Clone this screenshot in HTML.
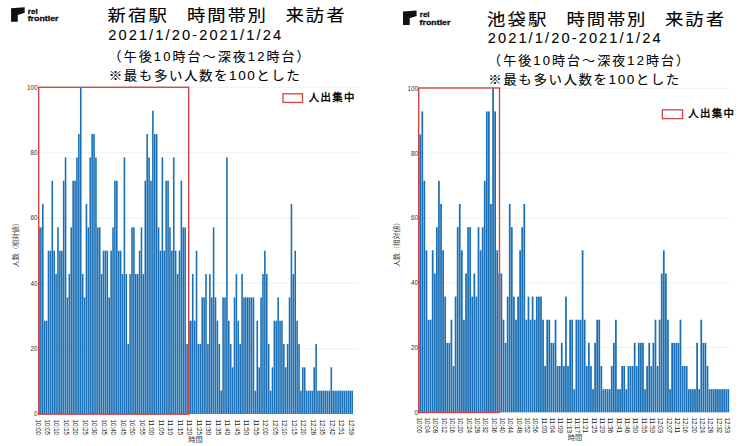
<!DOCTYPE html><html><head><meta charset="utf-8"><title>chart</title><style>html,body{margin:0;padding:0;background:#fff}svg{display:block}text{font-family:"Liberation Sans","Noto Sans CJK JP",sans-serif}</style></head><body>
<svg width="743" height="446" viewBox="0 0 743 446">
<rect width="743" height="446" fill="#fff"/>
<line x1="38.7" x2="358" y1="414.00" y2="414.00" stroke="#eeeeee" stroke-width="0.8"/>
<text x="37.6" y="416.40" font-size="6.3" fill="#333" text-anchor="end">0</text>
<line x1="38.7" x2="358" y1="348.68" y2="348.68" stroke="#eeeeee" stroke-width="0.8"/>
<text x="37.6" y="351.08" font-size="6.3" fill="#333" text-anchor="end">20</text>
<line x1="38.7" x2="358" y1="283.36" y2="283.36" stroke="#eeeeee" stroke-width="0.8"/>
<text x="37.6" y="285.76" font-size="6.3" fill="#333" text-anchor="end">40</text>
<line x1="38.7" x2="358" y1="218.04" y2="218.04" stroke="#eeeeee" stroke-width="0.8"/>
<text x="37.6" y="220.44" font-size="6.3" fill="#333" text-anchor="end">60</text>
<line x1="38.7" x2="358" y1="152.72" y2="152.72" stroke="#eeeeee" stroke-width="0.8"/>
<text x="37.6" y="155.12" font-size="6.3" fill="#333" text-anchor="end">80</text>
<line x1="38.7" x2="358" y1="87.40" y2="87.40" stroke="#eeeeee" stroke-width="0.8"/>
<text x="37.6" y="89.80" font-size="6.3" fill="#333" text-anchor="end">100</text>
<g fill="#1b70b5"><rect x="38.20" y="227.37" width="1.59" height="186.63"/><rect x="40.10" y="227.37" width="1.59" height="186.63"/><rect x="42.00" y="204.04" width="1.59" height="209.96"/><rect x="43.90" y="320.69" width="1.59" height="93.31"/><rect x="45.79" y="320.69" width="1.59" height="93.31"/><rect x="47.69" y="250.70" width="1.59" height="163.30"/><rect x="49.59" y="250.70" width="1.59" height="163.30"/><rect x="51.49" y="180.71" width="1.59" height="233.29"/><rect x="53.39" y="250.70" width="1.59" height="163.30"/><rect x="55.28" y="274.03" width="1.59" height="139.97"/><rect x="57.18" y="227.37" width="1.59" height="186.63"/><rect x="59.08" y="250.70" width="1.59" height="163.30"/><rect x="60.98" y="250.70" width="1.59" height="163.30"/><rect x="62.88" y="180.71" width="1.59" height="233.29"/><rect x="64.77" y="157.39" width="1.59" height="256.61"/><rect x="66.67" y="297.36" width="1.59" height="116.64"/><rect x="68.57" y="274.03" width="1.59" height="139.97"/><rect x="70.47" y="227.37" width="1.59" height="186.63"/><rect x="72.37" y="180.71" width="1.59" height="233.29"/><rect x="74.26" y="180.71" width="1.59" height="233.29"/><rect x="76.16" y="157.39" width="1.59" height="256.61"/><rect x="78.06" y="134.06" width="1.59" height="279.94"/><rect x="79.96" y="87.40" width="1.59" height="326.60"/><rect x="81.86" y="274.03" width="1.59" height="139.97"/><rect x="83.75" y="297.36" width="1.59" height="116.64"/><rect x="85.65" y="204.04" width="1.59" height="209.96"/><rect x="87.55" y="227.37" width="1.59" height="186.63"/><rect x="89.45" y="157.39" width="1.59" height="256.61"/><rect x="91.35" y="134.06" width="1.59" height="279.94"/><rect x="93.24" y="134.06" width="1.59" height="279.94"/><rect x="95.14" y="157.39" width="1.59" height="256.61"/><rect x="97.04" y="227.37" width="1.59" height="186.63"/><rect x="98.94" y="227.37" width="1.59" height="186.63"/><rect x="100.84" y="274.03" width="1.59" height="139.97"/><rect x="102.73" y="250.70" width="1.59" height="163.30"/><rect x="104.63" y="250.70" width="1.59" height="163.30"/><rect x="106.53" y="250.70" width="1.59" height="163.30"/><rect x="108.43" y="297.36" width="1.59" height="116.64"/><rect x="110.33" y="250.70" width="1.59" height="163.30"/><rect x="112.22" y="227.37" width="1.59" height="186.63"/><rect x="114.12" y="180.71" width="1.59" height="233.29"/><rect x="116.02" y="180.71" width="1.59" height="233.29"/><rect x="117.92" y="250.70" width="1.59" height="163.30"/><rect x="119.82" y="250.70" width="1.59" height="163.30"/><rect x="121.71" y="274.03" width="1.59" height="139.97"/><rect x="123.61" y="157.39" width="1.59" height="256.61"/><rect x="125.51" y="274.03" width="1.59" height="139.97"/><rect x="127.41" y="344.01" width="1.59" height="69.99"/><rect x="129.31" y="274.03" width="1.59" height="139.97"/><rect x="131.20" y="227.37" width="1.59" height="186.63"/><rect x="133.10" y="227.37" width="1.59" height="186.63"/><rect x="135.00" y="274.03" width="1.59" height="139.97"/><rect x="136.90" y="274.03" width="1.59" height="139.97"/><rect x="138.80" y="250.70" width="1.59" height="163.30"/><rect x="140.69" y="227.37" width="1.59" height="186.63"/><rect x="142.59" y="274.03" width="1.59" height="139.97"/><rect x="144.49" y="180.71" width="1.59" height="233.29"/><rect x="146.39" y="134.06" width="1.59" height="279.94"/><rect x="148.29" y="157.39" width="1.59" height="256.61"/><rect x="150.18" y="180.71" width="1.59" height="233.29"/><rect x="152.08" y="110.73" width="1.59" height="303.27"/><rect x="153.98" y="134.06" width="1.59" height="279.94"/><rect x="155.88" y="134.06" width="1.59" height="279.94"/><rect x="157.78" y="227.37" width="1.59" height="186.63"/><rect x="159.67" y="250.70" width="1.59" height="163.30"/><rect x="161.57" y="157.39" width="1.59" height="256.61"/><rect x="163.47" y="250.70" width="1.59" height="163.30"/><rect x="165.37" y="180.71" width="1.59" height="233.29"/><rect x="167.27" y="180.71" width="1.59" height="233.29"/><rect x="169.16" y="227.37" width="1.59" height="186.63"/><rect x="171.06" y="250.70" width="1.59" height="163.30"/><rect x="172.96" y="157.39" width="1.59" height="256.61"/><rect x="174.86" y="250.70" width="1.59" height="163.30"/><rect x="176.76" y="274.03" width="1.59" height="139.97"/><rect x="178.65" y="250.70" width="1.59" height="163.30"/><rect x="180.55" y="180.71" width="1.59" height="233.29"/><rect x="182.45" y="227.37" width="1.59" height="186.63"/><rect x="184.35" y="227.37" width="1.59" height="186.63"/><rect x="186.25" y="344.01" width="1.59" height="69.99"/><rect x="188.14" y="320.69" width="1.59" height="93.31"/><rect x="190.04" y="320.69" width="1.59" height="93.31"/><rect x="191.94" y="274.03" width="1.59" height="139.97"/><rect x="193.84" y="320.69" width="1.59" height="93.31"/><rect x="195.74" y="250.70" width="1.59" height="163.30"/><rect x="197.63" y="344.01" width="1.59" height="69.99"/><rect x="199.53" y="344.01" width="1.59" height="69.99"/><rect x="201.43" y="297.36" width="1.59" height="116.64"/><rect x="203.33" y="297.36" width="1.59" height="116.64"/><rect x="205.23" y="274.03" width="1.59" height="139.97"/><rect x="207.12" y="344.01" width="1.59" height="69.99"/><rect x="209.02" y="274.03" width="1.59" height="139.97"/><rect x="210.92" y="297.36" width="1.59" height="116.64"/><rect x="212.82" y="227.37" width="1.59" height="186.63"/><rect x="214.72" y="297.36" width="1.59" height="116.64"/><rect x="216.61" y="320.69" width="1.59" height="93.31"/><rect x="218.51" y="344.01" width="1.59" height="69.99"/><rect x="220.41" y="390.67" width="1.59" height="23.33"/><rect x="222.31" y="297.36" width="1.59" height="116.64"/><rect x="224.21" y="297.36" width="1.59" height="116.64"/><rect x="226.10" y="157.39" width="1.59" height="256.61"/><rect x="228.00" y="320.69" width="1.59" height="93.31"/><rect x="229.90" y="344.01" width="1.59" height="69.99"/><rect x="231.80" y="367.34" width="1.59" height="46.66"/><rect x="233.70" y="297.36" width="1.59" height="116.64"/><rect x="235.59" y="274.03" width="1.59" height="139.97"/><rect x="237.49" y="320.69" width="1.59" height="93.31"/><rect x="239.39" y="344.01" width="1.59" height="69.99"/><rect x="241.29" y="274.03" width="1.59" height="139.97"/><rect x="243.19" y="297.36" width="1.59" height="116.64"/><rect x="245.08" y="297.36" width="1.59" height="116.64"/><rect x="246.98" y="297.36" width="1.59" height="116.64"/><rect x="248.88" y="297.36" width="1.59" height="116.64"/><rect x="250.78" y="297.36" width="1.59" height="116.64"/><rect x="252.68" y="297.36" width="1.59" height="116.64"/><rect x="254.57" y="390.67" width="1.59" height="23.33"/><rect x="256.47" y="320.69" width="1.59" height="93.31"/><rect x="258.37" y="367.34" width="1.59" height="46.66"/><rect x="260.27" y="297.36" width="1.59" height="116.64"/><rect x="262.17" y="274.03" width="1.59" height="139.97"/><rect x="264.06" y="250.70" width="1.59" height="163.30"/><rect x="265.96" y="274.03" width="1.59" height="139.97"/><rect x="267.86" y="344.01" width="1.59" height="69.99"/><rect x="269.76" y="390.67" width="1.59" height="23.33"/><rect x="271.66" y="367.34" width="1.59" height="46.66"/><rect x="273.55" y="320.69" width="1.59" height="93.31"/><rect x="275.45" y="320.69" width="1.59" height="93.31"/><rect x="277.35" y="297.36" width="1.59" height="116.64"/><rect x="279.25" y="320.69" width="1.59" height="93.31"/><rect x="281.15" y="320.69" width="1.59" height="93.31"/><rect x="283.04" y="344.01" width="1.59" height="69.99"/><rect x="284.94" y="367.34" width="1.59" height="46.66"/><rect x="286.84" y="344.01" width="1.59" height="69.99"/><rect x="288.74" y="297.36" width="1.59" height="116.64"/><rect x="290.64" y="204.04" width="1.59" height="209.96"/><rect x="292.53" y="274.03" width="1.59" height="139.97"/><rect x="294.43" y="250.70" width="1.59" height="163.30"/><rect x="296.33" y="320.69" width="1.59" height="93.31"/><rect x="298.23" y="344.01" width="1.59" height="69.99"/><rect x="300.13" y="390.67" width="1.59" height="23.33"/><rect x="302.02" y="367.34" width="1.59" height="46.66"/><rect x="303.92" y="367.34" width="1.59" height="46.66"/><rect x="305.82" y="390.67" width="1.59" height="23.33"/><rect x="307.72" y="390.67" width="1.59" height="23.33"/><rect x="309.62" y="390.67" width="1.59" height="23.33"/><rect x="311.51" y="390.67" width="1.59" height="23.33"/><rect x="313.41" y="367.34" width="1.59" height="46.66"/><rect x="315.31" y="344.01" width="1.59" height="69.99"/><rect x="317.21" y="390.67" width="1.59" height="23.33"/><rect x="319.11" y="390.67" width="1.59" height="23.33"/><rect x="321.00" y="390.67" width="1.59" height="23.33"/><rect x="322.90" y="390.67" width="1.59" height="23.33"/><rect x="324.80" y="390.67" width="1.59" height="23.33"/><rect x="326.70" y="390.67" width="1.59" height="23.33"/><rect x="328.60" y="390.67" width="1.59" height="23.33"/><rect x="330.49" y="367.34" width="1.59" height="46.66"/><rect x="332.39" y="390.67" width="1.59" height="23.33"/><rect x="334.29" y="390.67" width="1.59" height="23.33"/><rect x="336.19" y="390.67" width="1.59" height="23.33"/><rect x="338.09" y="390.67" width="1.59" height="23.33"/><rect x="339.98" y="390.67" width="1.59" height="23.33"/><rect x="341.88" y="390.67" width="1.59" height="23.33"/><rect x="343.78" y="390.67" width="1.59" height="23.33"/><rect x="345.68" y="390.67" width="1.59" height="23.33"/><rect x="347.58" y="390.67" width="1.59" height="23.33"/><rect x="349.47" y="390.67" width="1.59" height="23.33"/><rect x="351.37" y="390.67" width="1.59" height="23.33"/></g>
<rect x="38.70" y="87.25" width="150.00" height="326.95" fill="none" stroke="#cf4545" stroke-width="1.4"/>
<text transform="translate(38.00,419.5) rotate(90)" font-size="6.7" fill="#222" dominant-baseline="central" textLength="15.6" lengthAdjust="spacingAndGlyphs">10:00</text>
<text transform="translate(47.49,419.5) rotate(90)" font-size="6.7" fill="#222" dominant-baseline="central" textLength="15.6" lengthAdjust="spacingAndGlyphs">10:05</text>
<text transform="translate(56.98,419.5) rotate(90)" font-size="6.7" fill="#222" dominant-baseline="central" textLength="15.6" lengthAdjust="spacingAndGlyphs">10:10</text>
<text transform="translate(66.47,419.5) rotate(90)" font-size="6.7" fill="#222" dominant-baseline="central" textLength="15.6" lengthAdjust="spacingAndGlyphs">10:15</text>
<text transform="translate(75.96,419.5) rotate(90)" font-size="6.7" fill="#222" dominant-baseline="central" textLength="15.6" lengthAdjust="spacingAndGlyphs">10:20</text>
<text transform="translate(85.45,419.5) rotate(90)" font-size="6.7" fill="#222" dominant-baseline="central" textLength="15.6" lengthAdjust="spacingAndGlyphs">10:25</text>
<text transform="translate(94.94,419.5) rotate(90)" font-size="6.7" fill="#222" dominant-baseline="central" textLength="15.6" lengthAdjust="spacingAndGlyphs">10:30</text>
<text transform="translate(104.43,419.5) rotate(90)" font-size="6.7" fill="#222" dominant-baseline="central" textLength="15.6" lengthAdjust="spacingAndGlyphs">10:35</text>
<text transform="translate(113.92,419.5) rotate(90)" font-size="6.7" fill="#222" dominant-baseline="central" textLength="15.6" lengthAdjust="spacingAndGlyphs">10:40</text>
<text transform="translate(123.41,419.5) rotate(90)" font-size="6.7" fill="#222" dominant-baseline="central" textLength="15.6" lengthAdjust="spacingAndGlyphs">10:45</text>
<text transform="translate(132.90,419.5) rotate(90)" font-size="6.7" fill="#222" dominant-baseline="central" textLength="15.6" lengthAdjust="spacingAndGlyphs">10:50</text>
<text transform="translate(142.39,419.5) rotate(90)" font-size="6.7" fill="#222" dominant-baseline="central" textLength="15.6" lengthAdjust="spacingAndGlyphs">10:55</text>
<text transform="translate(151.88,419.5) rotate(90)" font-size="6.7" fill="#222" dominant-baseline="central" textLength="15.6" lengthAdjust="spacingAndGlyphs">11:00</text>
<text transform="translate(161.37,419.5) rotate(90)" font-size="6.7" fill="#222" dominant-baseline="central" textLength="15.6" lengthAdjust="spacingAndGlyphs">11:05</text>
<text transform="translate(170.86,419.5) rotate(90)" font-size="6.7" fill="#222" dominant-baseline="central" textLength="15.6" lengthAdjust="spacingAndGlyphs">11:10</text>
<text transform="translate(180.35,419.5) rotate(90)" font-size="6.7" fill="#222" dominant-baseline="central" textLength="15.6" lengthAdjust="spacingAndGlyphs">11:15</text>
<text transform="translate(189.84,419.5) rotate(90)" font-size="6.7" fill="#222" dominant-baseline="central" textLength="15.6" lengthAdjust="spacingAndGlyphs">11:20</text>
<text transform="translate(199.33,419.5) rotate(90)" font-size="6.7" fill="#222" dominant-baseline="central" textLength="15.6" lengthAdjust="spacingAndGlyphs">11:25</text>
<text transform="translate(208.82,419.5) rotate(90)" font-size="6.7" fill="#222" dominant-baseline="central" textLength="15.6" lengthAdjust="spacingAndGlyphs">11:30</text>
<text transform="translate(218.31,419.5) rotate(90)" font-size="6.7" fill="#222" dominant-baseline="central" textLength="15.6" lengthAdjust="spacingAndGlyphs">11:35</text>
<text transform="translate(227.80,419.5) rotate(90)" font-size="6.7" fill="#222" dominant-baseline="central" textLength="15.6" lengthAdjust="spacingAndGlyphs">11:40</text>
<text transform="translate(237.29,419.5) rotate(90)" font-size="6.7" fill="#222" dominant-baseline="central" textLength="15.6" lengthAdjust="spacingAndGlyphs">11:45</text>
<text transform="translate(246.78,419.5) rotate(90)" font-size="6.7" fill="#222" dominant-baseline="central" textLength="15.6" lengthAdjust="spacingAndGlyphs">11:50</text>
<text transform="translate(256.27,419.5) rotate(90)" font-size="6.7" fill="#222" dominant-baseline="central" textLength="15.6" lengthAdjust="spacingAndGlyphs">11:55</text>
<text transform="translate(265.76,419.5) rotate(90)" font-size="6.7" fill="#222" dominant-baseline="central" textLength="15.6" lengthAdjust="spacingAndGlyphs">12:00</text>
<text transform="translate(275.25,419.5) rotate(90)" font-size="6.7" fill="#222" dominant-baseline="central" textLength="15.6" lengthAdjust="spacingAndGlyphs">12:05</text>
<text transform="translate(284.74,419.5) rotate(90)" font-size="6.7" fill="#222" dominant-baseline="central" textLength="15.6" lengthAdjust="spacingAndGlyphs">12:10</text>
<text transform="translate(294.23,419.5) rotate(90)" font-size="6.7" fill="#222" dominant-baseline="central" textLength="15.6" lengthAdjust="spacingAndGlyphs">12:15</text>
<text transform="translate(303.72,419.5) rotate(90)" font-size="6.7" fill="#222" dominant-baseline="central" textLength="15.6" lengthAdjust="spacingAndGlyphs">12:20</text>
<text transform="translate(313.21,419.5) rotate(90)" font-size="6.7" fill="#222" dominant-baseline="central" textLength="15.6" lengthAdjust="spacingAndGlyphs">12:28</text>
<text transform="translate(322.70,419.5) rotate(90)" font-size="6.7" fill="#222" dominant-baseline="central" textLength="15.6" lengthAdjust="spacingAndGlyphs">12:35</text>
<text transform="translate(332.19,419.5) rotate(90)" font-size="6.7" fill="#222" dominant-baseline="central" textLength="15.6" lengthAdjust="spacingAndGlyphs">12:42</text>
<text transform="translate(341.68,419.5) rotate(90)" font-size="6.7" fill="#222" dominant-baseline="central" textLength="15.6" lengthAdjust="spacingAndGlyphs">12:51</text>
<text transform="translate(351.17,419.5) rotate(90)" font-size="6.7" fill="#222" dominant-baseline="central" textLength="15.6" lengthAdjust="spacingAndGlyphs">12:59</text>
<text transform="translate(195.5,442.3) scale(1.14,1)" font-size="6.3" fill="#333" text-anchor="middle">時間</text>
<text transform="translate(18.099999999999998,243.2) rotate(-90)" font-size="6.9" fill="#444" text-anchor="middle" textLength="48" lengthAdjust="spacing">人数（相対値）</text>
<line x1="418.7" x2="730" y1="412.30" y2="412.30" stroke="#eeeeee" stroke-width="0.8"/>
<text x="418.0" y="414.70" font-size="6.3" fill="#333" text-anchor="end">0</text>
<line x1="418.7" x2="730" y1="347.50" y2="347.50" stroke="#eeeeee" stroke-width="0.8"/>
<text x="418.0" y="349.90" font-size="6.3" fill="#333" text-anchor="end">20</text>
<line x1="418.7" x2="730" y1="282.70" y2="282.70" stroke="#eeeeee" stroke-width="0.8"/>
<text x="418.0" y="285.10" font-size="6.3" fill="#333" text-anchor="end">40</text>
<line x1="418.7" x2="730" y1="217.90" y2="217.90" stroke="#eeeeee" stroke-width="0.8"/>
<text x="418.0" y="220.30" font-size="6.3" fill="#333" text-anchor="end">60</text>
<line x1="418.7" x2="730" y1="153.10" y2="153.10" stroke="#eeeeee" stroke-width="0.8"/>
<text x="418.0" y="155.50" font-size="6.3" fill="#333" text-anchor="end">80</text>
<line x1="418.7" x2="730" y1="88.30" y2="88.30" stroke="#eeeeee" stroke-width="0.8"/>
<text x="418.0" y="90.70" font-size="6.3" fill="#333" text-anchor="end">100</text>
<g fill="#1b70b5"><rect x="419.33" y="134.59" width="1.75" height="277.71"/><rect x="421.41" y="111.44" width="1.75" height="300.86"/><rect x="423.49" y="180.87" width="1.75" height="231.43"/><rect x="425.57" y="250.30" width="1.75" height="162.00"/><rect x="427.65" y="319.73" width="1.75" height="92.57"/><rect x="429.74" y="319.73" width="1.75" height="92.57"/><rect x="431.82" y="250.30" width="1.75" height="162.00"/><rect x="433.90" y="273.44" width="1.75" height="138.86"/><rect x="435.98" y="227.16" width="1.75" height="185.14"/><rect x="438.06" y="180.87" width="1.75" height="231.43"/><rect x="440.15" y="204.01" width="1.75" height="208.29"/><rect x="442.23" y="250.30" width="1.75" height="162.00"/><rect x="444.31" y="296.59" width="1.75" height="115.71"/><rect x="446.39" y="342.87" width="1.75" height="69.43"/><rect x="448.47" y="342.87" width="1.75" height="69.43"/><rect x="450.56" y="319.73" width="1.75" height="92.57"/><rect x="452.64" y="366.01" width="1.75" height="46.29"/><rect x="454.72" y="296.59" width="1.75" height="115.71"/><rect x="456.80" y="227.16" width="1.75" height="185.14"/><rect x="458.88" y="204.01" width="1.75" height="208.29"/><rect x="460.97" y="250.30" width="1.75" height="162.00"/><rect x="463.05" y="319.73" width="1.75" height="92.57"/><rect x="465.13" y="273.44" width="1.75" height="138.86"/><rect x="467.21" y="227.16" width="1.75" height="185.14"/><rect x="469.29" y="227.16" width="1.75" height="185.14"/><rect x="471.38" y="296.59" width="1.75" height="115.71"/><rect x="473.46" y="273.44" width="1.75" height="138.86"/><rect x="475.54" y="296.59" width="1.75" height="115.71"/><rect x="477.62" y="227.16" width="1.75" height="185.14"/><rect x="479.70" y="250.30" width="1.75" height="162.00"/><rect x="481.79" y="227.16" width="1.75" height="185.14"/><rect x="483.87" y="180.87" width="1.75" height="231.43"/><rect x="485.95" y="111.44" width="1.75" height="300.86"/><rect x="488.03" y="111.44" width="1.75" height="300.86"/><rect x="490.11" y="204.01" width="1.75" height="208.29"/><rect x="492.20" y="88.30" width="1.75" height="324.00"/><rect x="494.28" y="111.44" width="1.75" height="300.86"/><rect x="496.36" y="250.30" width="1.75" height="162.00"/><rect x="498.44" y="273.44" width="1.75" height="138.86"/><rect x="500.52" y="273.44" width="1.75" height="138.86"/><rect x="502.61" y="319.73" width="1.75" height="92.57"/><rect x="504.69" y="342.87" width="1.75" height="69.43"/><rect x="506.77" y="296.59" width="1.75" height="115.71"/><rect x="508.85" y="204.01" width="1.75" height="208.29"/><rect x="510.93" y="227.16" width="1.75" height="185.14"/><rect x="513.02" y="296.59" width="1.75" height="115.71"/><rect x="515.10" y="319.73" width="1.75" height="92.57"/><rect x="517.18" y="296.59" width="1.75" height="115.71"/><rect x="519.26" y="250.30" width="1.75" height="162.00"/><rect x="521.34" y="227.16" width="1.75" height="185.14"/><rect x="523.43" y="204.01" width="1.75" height="208.29"/><rect x="525.51" y="319.73" width="1.75" height="92.57"/><rect x="527.59" y="296.59" width="1.75" height="115.71"/><rect x="529.67" y="319.73" width="1.75" height="92.57"/><rect x="531.75" y="296.59" width="1.75" height="115.71"/><rect x="533.84" y="319.73" width="1.75" height="92.57"/><rect x="535.92" y="296.59" width="1.75" height="115.71"/><rect x="538.00" y="296.59" width="1.75" height="115.71"/><rect x="540.08" y="296.59" width="1.75" height="115.71"/><rect x="542.16" y="319.73" width="1.75" height="92.57"/><rect x="544.25" y="366.01" width="1.75" height="46.29"/><rect x="546.33" y="319.73" width="1.75" height="92.57"/><rect x="548.41" y="319.73" width="1.75" height="92.57"/><rect x="550.49" y="342.87" width="1.75" height="69.43"/><rect x="552.57" y="342.87" width="1.75" height="69.43"/><rect x="554.66" y="319.73" width="1.75" height="92.57"/><rect x="556.74" y="366.01" width="1.75" height="46.29"/><rect x="558.82" y="366.01" width="1.75" height="46.29"/><rect x="560.90" y="342.87" width="1.75" height="69.43"/><rect x="562.98" y="366.01" width="1.75" height="46.29"/><rect x="565.07" y="296.59" width="1.75" height="115.71"/><rect x="567.15" y="366.01" width="1.75" height="46.29"/><rect x="569.23" y="319.73" width="1.75" height="92.57"/><rect x="571.31" y="319.73" width="1.75" height="92.57"/><rect x="573.39" y="389.16" width="1.75" height="23.14"/><rect x="575.48" y="319.73" width="1.75" height="92.57"/><rect x="577.56" y="319.73" width="1.75" height="92.57"/><rect x="579.64" y="319.73" width="1.75" height="92.57"/><rect x="581.72" y="250.30" width="1.75" height="162.00"/><rect x="583.80" y="319.73" width="1.75" height="92.57"/><rect x="585.89" y="366.01" width="1.75" height="46.29"/><rect x="587.97" y="342.87" width="1.75" height="69.43"/><rect x="590.05" y="366.01" width="1.75" height="46.29"/><rect x="592.13" y="389.16" width="1.75" height="23.14"/><rect x="594.21" y="342.87" width="1.75" height="69.43"/><rect x="596.30" y="319.73" width="1.75" height="92.57"/><rect x="598.38" y="319.73" width="1.75" height="92.57"/><rect x="600.46" y="366.01" width="1.75" height="46.29"/><rect x="602.54" y="389.16" width="1.75" height="23.14"/><rect x="604.62" y="389.16" width="1.75" height="23.14"/><rect x="606.71" y="389.16" width="1.75" height="23.14"/><rect x="608.79" y="389.16" width="1.75" height="23.14"/><rect x="610.87" y="366.01" width="1.75" height="46.29"/><rect x="612.95" y="342.87" width="1.75" height="69.43"/><rect x="615.03" y="319.73" width="1.75" height="92.57"/><rect x="617.12" y="389.16" width="1.75" height="23.14"/><rect x="619.20" y="389.16" width="1.75" height="23.14"/><rect x="621.28" y="366.01" width="1.75" height="46.29"/><rect x="623.36" y="366.01" width="1.75" height="46.29"/><rect x="625.44" y="389.16" width="1.75" height="23.14"/><rect x="627.53" y="366.01" width="1.75" height="46.29"/><rect x="629.61" y="366.01" width="1.75" height="46.29"/><rect x="631.69" y="366.01" width="1.75" height="46.29"/><rect x="633.77" y="342.87" width="1.75" height="69.43"/><rect x="635.85" y="366.01" width="1.75" height="46.29"/><rect x="637.94" y="342.87" width="1.75" height="69.43"/><rect x="640.02" y="342.87" width="1.75" height="69.43"/><rect x="642.10" y="342.87" width="1.75" height="69.43"/><rect x="644.18" y="389.16" width="1.75" height="23.14"/><rect x="646.26" y="366.01" width="1.75" height="46.29"/><rect x="648.35" y="342.87" width="1.75" height="69.43"/><rect x="650.43" y="366.01" width="1.75" height="46.29"/><rect x="652.51" y="342.87" width="1.75" height="69.43"/><rect x="654.59" y="319.73" width="1.75" height="92.57"/><rect x="656.67" y="366.01" width="1.75" height="46.29"/><rect x="658.76" y="319.73" width="1.75" height="92.57"/><rect x="660.84" y="273.44" width="1.75" height="138.86"/><rect x="662.92" y="250.30" width="1.75" height="162.00"/><rect x="665.00" y="273.44" width="1.75" height="138.86"/><rect x="667.08" y="319.73" width="1.75" height="92.57"/><rect x="669.17" y="389.16" width="1.75" height="23.14"/><rect x="671.25" y="342.87" width="1.75" height="69.43"/><rect x="673.33" y="342.87" width="1.75" height="69.43"/><rect x="675.41" y="342.87" width="1.75" height="69.43"/><rect x="677.49" y="342.87" width="1.75" height="69.43"/><rect x="679.58" y="319.73" width="1.75" height="92.57"/><rect x="681.66" y="366.01" width="1.75" height="46.29"/><rect x="683.74" y="366.01" width="1.75" height="46.29"/><rect x="685.82" y="366.01" width="1.75" height="46.29"/><rect x="687.90" y="389.16" width="1.75" height="23.14"/><rect x="689.99" y="389.16" width="1.75" height="23.14"/><rect x="692.07" y="389.16" width="1.75" height="23.14"/><rect x="694.15" y="389.16" width="1.75" height="23.14"/><rect x="696.23" y="342.87" width="1.75" height="69.43"/><rect x="698.31" y="389.16" width="1.75" height="23.14"/><rect x="700.40" y="319.73" width="1.75" height="92.57"/><rect x="702.48" y="342.87" width="1.75" height="69.43"/><rect x="704.56" y="342.87" width="1.75" height="69.43"/><rect x="706.64" y="366.01" width="1.75" height="46.29"/><rect x="708.72" y="389.16" width="1.75" height="23.14"/><rect x="710.81" y="389.16" width="1.75" height="23.14"/><rect x="712.89" y="389.16" width="1.75" height="23.14"/><rect x="714.97" y="389.16" width="1.75" height="23.14"/><rect x="717.05" y="389.16" width="1.75" height="23.14"/><rect x="719.13" y="389.16" width="1.75" height="23.14"/><rect x="721.22" y="389.16" width="1.75" height="23.14"/><rect x="723.30" y="389.16" width="1.75" height="23.14"/><rect x="725.38" y="389.16" width="1.75" height="23.14"/><rect x="727.46" y="389.16" width="1.75" height="23.14"/></g>
<rect x="418.70" y="87.95" width="80.80" height="324.55" fill="none" stroke="#cf4545" stroke-width="1.4"/>
<text transform="translate(419.30,417.5) rotate(90)" font-size="6.7" fill="#222" dominant-baseline="central" textLength="15.6" lengthAdjust="spacingAndGlyphs">10:00</text>
<text transform="translate(427.63,417.5) rotate(90)" font-size="6.7" fill="#222" dominant-baseline="central" textLength="15.6" lengthAdjust="spacingAndGlyphs">10:04</text>
<text transform="translate(435.96,417.5) rotate(90)" font-size="6.7" fill="#222" dominant-baseline="central" textLength="15.6" lengthAdjust="spacingAndGlyphs">10:08</text>
<text transform="translate(444.28,417.5) rotate(90)" font-size="6.7" fill="#222" dominant-baseline="central" textLength="15.6" lengthAdjust="spacingAndGlyphs">10:12</text>
<text transform="translate(452.61,417.5) rotate(90)" font-size="6.7" fill="#222" dominant-baseline="central" textLength="15.6" lengthAdjust="spacingAndGlyphs">10:16</text>
<text transform="translate(460.94,417.5) rotate(90)" font-size="6.7" fill="#222" dominant-baseline="central" textLength="15.6" lengthAdjust="spacingAndGlyphs">10:20</text>
<text transform="translate(469.27,417.5) rotate(90)" font-size="6.7" fill="#222" dominant-baseline="central" textLength="15.6" lengthAdjust="spacingAndGlyphs">10:24</text>
<text transform="translate(477.60,417.5) rotate(90)" font-size="6.7" fill="#222" dominant-baseline="central" textLength="15.6" lengthAdjust="spacingAndGlyphs">10:28</text>
<text transform="translate(485.92,417.5) rotate(90)" font-size="6.7" fill="#222" dominant-baseline="central" textLength="15.6" lengthAdjust="spacingAndGlyphs">10:32</text>
<text transform="translate(494.25,417.5) rotate(90)" font-size="6.7" fill="#222" dominant-baseline="central" textLength="15.6" lengthAdjust="spacingAndGlyphs">10:36</text>
<text transform="translate(502.58,417.5) rotate(90)" font-size="6.7" fill="#222" dominant-baseline="central" textLength="15.6" lengthAdjust="spacingAndGlyphs">10:40</text>
<text transform="translate(510.91,417.5) rotate(90)" font-size="6.7" fill="#222" dominant-baseline="central" textLength="15.6" lengthAdjust="spacingAndGlyphs">10:44</text>
<text transform="translate(519.24,417.5) rotate(90)" font-size="6.7" fill="#222" dominant-baseline="central" textLength="15.6" lengthAdjust="spacingAndGlyphs">10:48</text>
<text transform="translate(527.56,417.5) rotate(90)" font-size="6.7" fill="#222" dominant-baseline="central" textLength="15.6" lengthAdjust="spacingAndGlyphs">10:52</text>
<text transform="translate(535.89,417.5) rotate(90)" font-size="6.7" fill="#222" dominant-baseline="central" textLength="15.6" lengthAdjust="spacingAndGlyphs">10:56</text>
<text transform="translate(544.22,417.5) rotate(90)" font-size="6.7" fill="#222" dominant-baseline="central" textLength="15.6" lengthAdjust="spacingAndGlyphs">11:00</text>
<text transform="translate(552.55,417.5) rotate(90)" font-size="6.7" fill="#222" dominant-baseline="central" textLength="15.6" lengthAdjust="spacingAndGlyphs">11:04</text>
<text transform="translate(560.88,417.5) rotate(90)" font-size="6.7" fill="#222" dominant-baseline="central" textLength="15.6" lengthAdjust="spacingAndGlyphs">11:09</text>
<text transform="translate(569.20,417.5) rotate(90)" font-size="6.7" fill="#222" dominant-baseline="central" textLength="15.6" lengthAdjust="spacingAndGlyphs">11:13</text>
<text transform="translate(577.53,417.5) rotate(90)" font-size="6.7" fill="#222" dominant-baseline="central" textLength="15.6" lengthAdjust="spacingAndGlyphs">11:17</text>
<text transform="translate(585.86,417.5) rotate(90)" font-size="6.7" fill="#222" dominant-baseline="central" textLength="15.6" lengthAdjust="spacingAndGlyphs">11:21</text>
<text transform="translate(594.19,417.5) rotate(90)" font-size="6.7" fill="#222" dominant-baseline="central" textLength="15.6" lengthAdjust="spacingAndGlyphs">11:25</text>
<text transform="translate(602.52,417.5) rotate(90)" font-size="6.7" fill="#222" dominant-baseline="central" textLength="15.6" lengthAdjust="spacingAndGlyphs">11:29</text>
<text transform="translate(610.84,417.5) rotate(90)" font-size="6.7" fill="#222" dominant-baseline="central" textLength="15.6" lengthAdjust="spacingAndGlyphs">11:36</text>
<text transform="translate(619.17,417.5) rotate(90)" font-size="6.7" fill="#222" dominant-baseline="central" textLength="15.6" lengthAdjust="spacingAndGlyphs">11:41</text>
<text transform="translate(627.50,417.5) rotate(90)" font-size="6.7" fill="#222" dominant-baseline="central" textLength="15.6" lengthAdjust="spacingAndGlyphs">11:46</text>
<text transform="translate(635.83,417.5) rotate(90)" font-size="6.7" fill="#222" dominant-baseline="central" textLength="15.6" lengthAdjust="spacingAndGlyphs">11:50</text>
<text transform="translate(644.16,417.5) rotate(90)" font-size="6.7" fill="#222" dominant-baseline="central" textLength="15.6" lengthAdjust="spacingAndGlyphs">11:55</text>
<text transform="translate(652.48,417.5) rotate(90)" font-size="6.7" fill="#222" dominant-baseline="central" textLength="15.6" lengthAdjust="spacingAndGlyphs">11:59</text>
<text transform="translate(660.81,417.5) rotate(90)" font-size="6.7" fill="#222" dominant-baseline="central" textLength="15.6" lengthAdjust="spacingAndGlyphs">12:03</text>
<text transform="translate(669.14,417.5) rotate(90)" font-size="6.7" fill="#222" dominant-baseline="central" textLength="15.6" lengthAdjust="spacingAndGlyphs">12:07</text>
<text transform="translate(677.47,417.5) rotate(90)" font-size="6.7" fill="#222" dominant-baseline="central" textLength="15.6" lengthAdjust="spacingAndGlyphs">12:11</text>
<text transform="translate(685.80,417.5) rotate(90)" font-size="6.7" fill="#222" dominant-baseline="central" textLength="15.6" lengthAdjust="spacingAndGlyphs">12:16</text>
<text transform="translate(694.12,417.5) rotate(90)" font-size="6.7" fill="#222" dominant-baseline="central" textLength="15.6" lengthAdjust="spacingAndGlyphs">12:20</text>
<text transform="translate(702.45,417.5) rotate(90)" font-size="6.7" fill="#222" dominant-baseline="central" textLength="15.6" lengthAdjust="spacingAndGlyphs">12:24</text>
<text transform="translate(710.78,417.5) rotate(90)" font-size="6.7" fill="#222" dominant-baseline="central" textLength="15.6" lengthAdjust="spacingAndGlyphs">12:28</text>
<text transform="translate(719.11,417.5) rotate(90)" font-size="6.7" fill="#222" dominant-baseline="central" textLength="15.6" lengthAdjust="spacingAndGlyphs">12:32</text>
<text transform="translate(727.44,417.5) rotate(90)" font-size="6.7" fill="#222" dominant-baseline="central" textLength="15.6" lengthAdjust="spacingAndGlyphs">12:53</text>
<text transform="translate(575,440.0) scale(1.14,1)" font-size="6.3" fill="#333" text-anchor="middle">時間</text>
<text transform="translate(399.0,242.8) rotate(-90)" font-size="6.9" fill="#444" text-anchor="middle" textLength="48" lengthAdjust="spacing">人数（相対値）</text>
<rect x="283.0" y="93.8" width="19.5" height="8.6" fill="none" stroke="#cf4545" stroke-width="1.3"/>
<text x="308.8" y="101.2" font-size="10.4" stroke="#000" stroke-width="0.4" textLength="45.6" lengthAdjust="spacing">人出集中</text>
<rect x="662.4" y="109.8" width="20.2" height="8.8" fill="none" stroke="#cf4545" stroke-width="1.3"/>
<text x="688.3" y="117.4" font-size="10.4" stroke="#000" stroke-width="0.4" textLength="45.5" lengthAdjust="spacing">人出集中</text>
<polygon points="11.07,8.20 24.67,7.20 24.67,12.80 17.77,14.90 17.77,21.65 11.07,21.65" fill="#111"/>
<text x="27.87" y="13.60" font-size="8" font-weight="bold" fill="#111" stroke="#111" stroke-width="0.35" textLength="9.8" lengthAdjust="spacingAndGlyphs">rei</text>
<text x="27.67" y="21.40" font-size="8" font-weight="bold" fill="#111" stroke="#111" stroke-width="0.35" textLength="30.8" lengthAdjust="spacingAndGlyphs">frontier</text>
<polygon points="403.00,11.50 416.60,10.50 416.60,16.10 409.70,18.20 409.70,24.95 403.00,24.95" fill="#111"/>
<text x="419.80" y="16.90" font-size="8" font-weight="bold" fill="#111" stroke="#111" stroke-width="0.35" textLength="9.8" lengthAdjust="spacingAndGlyphs">rei</text>
<text x="419.60" y="24.70" font-size="8" font-weight="bold" fill="#111" stroke="#111" stroke-width="0.35" textLength="30.8" lengthAdjust="spacingAndGlyphs">frontier</text>
<text transform="translate(107.5,21.0) scale(1.12,1)" stroke="#000" stroke-width="0.1" font-size="16.4" textLength="53.1" lengthAdjust="spacing">新宿駅</text>
<text transform="translate(187.0,21.0) scale(1.12,1)" stroke="#000" stroke-width="0.1" font-size="16.4" textLength="70.5" lengthAdjust="spacing">時間帯別</text>
<text transform="translate(285.5,21.0) scale(1.12,1)" stroke="#000" stroke-width="0.1" font-size="16.4" textLength="52.7" lengthAdjust="spacing">来訪者</text>
<text transform="translate(108.2,39.8) scale(1.03,1)" stroke="#000" stroke-width="0.08" font-size="14.2" textLength="167.8" lengthAdjust="spacing">2021/1/20-2021/1/24</text>
<text x="108.6" y="61.4" stroke="#000" stroke-width="0.08" font-size="13" textLength="201" lengthAdjust="spacing">（午後10時台～深夜12時台）</text>
<text transform="translate(108.8,79.9) scale(1.04,1)" stroke="#000" stroke-width="0.08" font-size="13" textLength="183.7" lengthAdjust="spacing">※最も多い人数を100とした</text>
<text transform="translate(487.0,24.5) scale(1.12,1)" stroke="#000" stroke-width="0.1" font-size="16.4" textLength="53.1" lengthAdjust="spacing">池袋駅</text>
<text transform="translate(566.5,24.5) scale(1.12,1)" stroke="#000" stroke-width="0.1" font-size="16.4" textLength="70.5" lengthAdjust="spacing">時間帯別</text>
<text transform="translate(665.0,24.5) scale(1.12,1)" stroke="#000" stroke-width="0.1" font-size="16.4" textLength="52.7" lengthAdjust="spacing">来訪者</text>
<text transform="translate(487.7,43.3) scale(1.03,1)" stroke="#000" stroke-width="0.08" font-size="14.2" textLength="167.8" lengthAdjust="spacing">2021/1/20-2021/1/24</text>
<text x="488.1" y="64.9" stroke="#000" stroke-width="0.08" font-size="13" textLength="201" lengthAdjust="spacing">（午後10時台～深夜12時台）</text>
<text transform="translate(488.3,84.3) scale(1.04,1)" stroke="#000" stroke-width="0.08" font-size="13" textLength="183.7" lengthAdjust="spacing">※最も多い人数を100とした</text>
</svg></body></html>
